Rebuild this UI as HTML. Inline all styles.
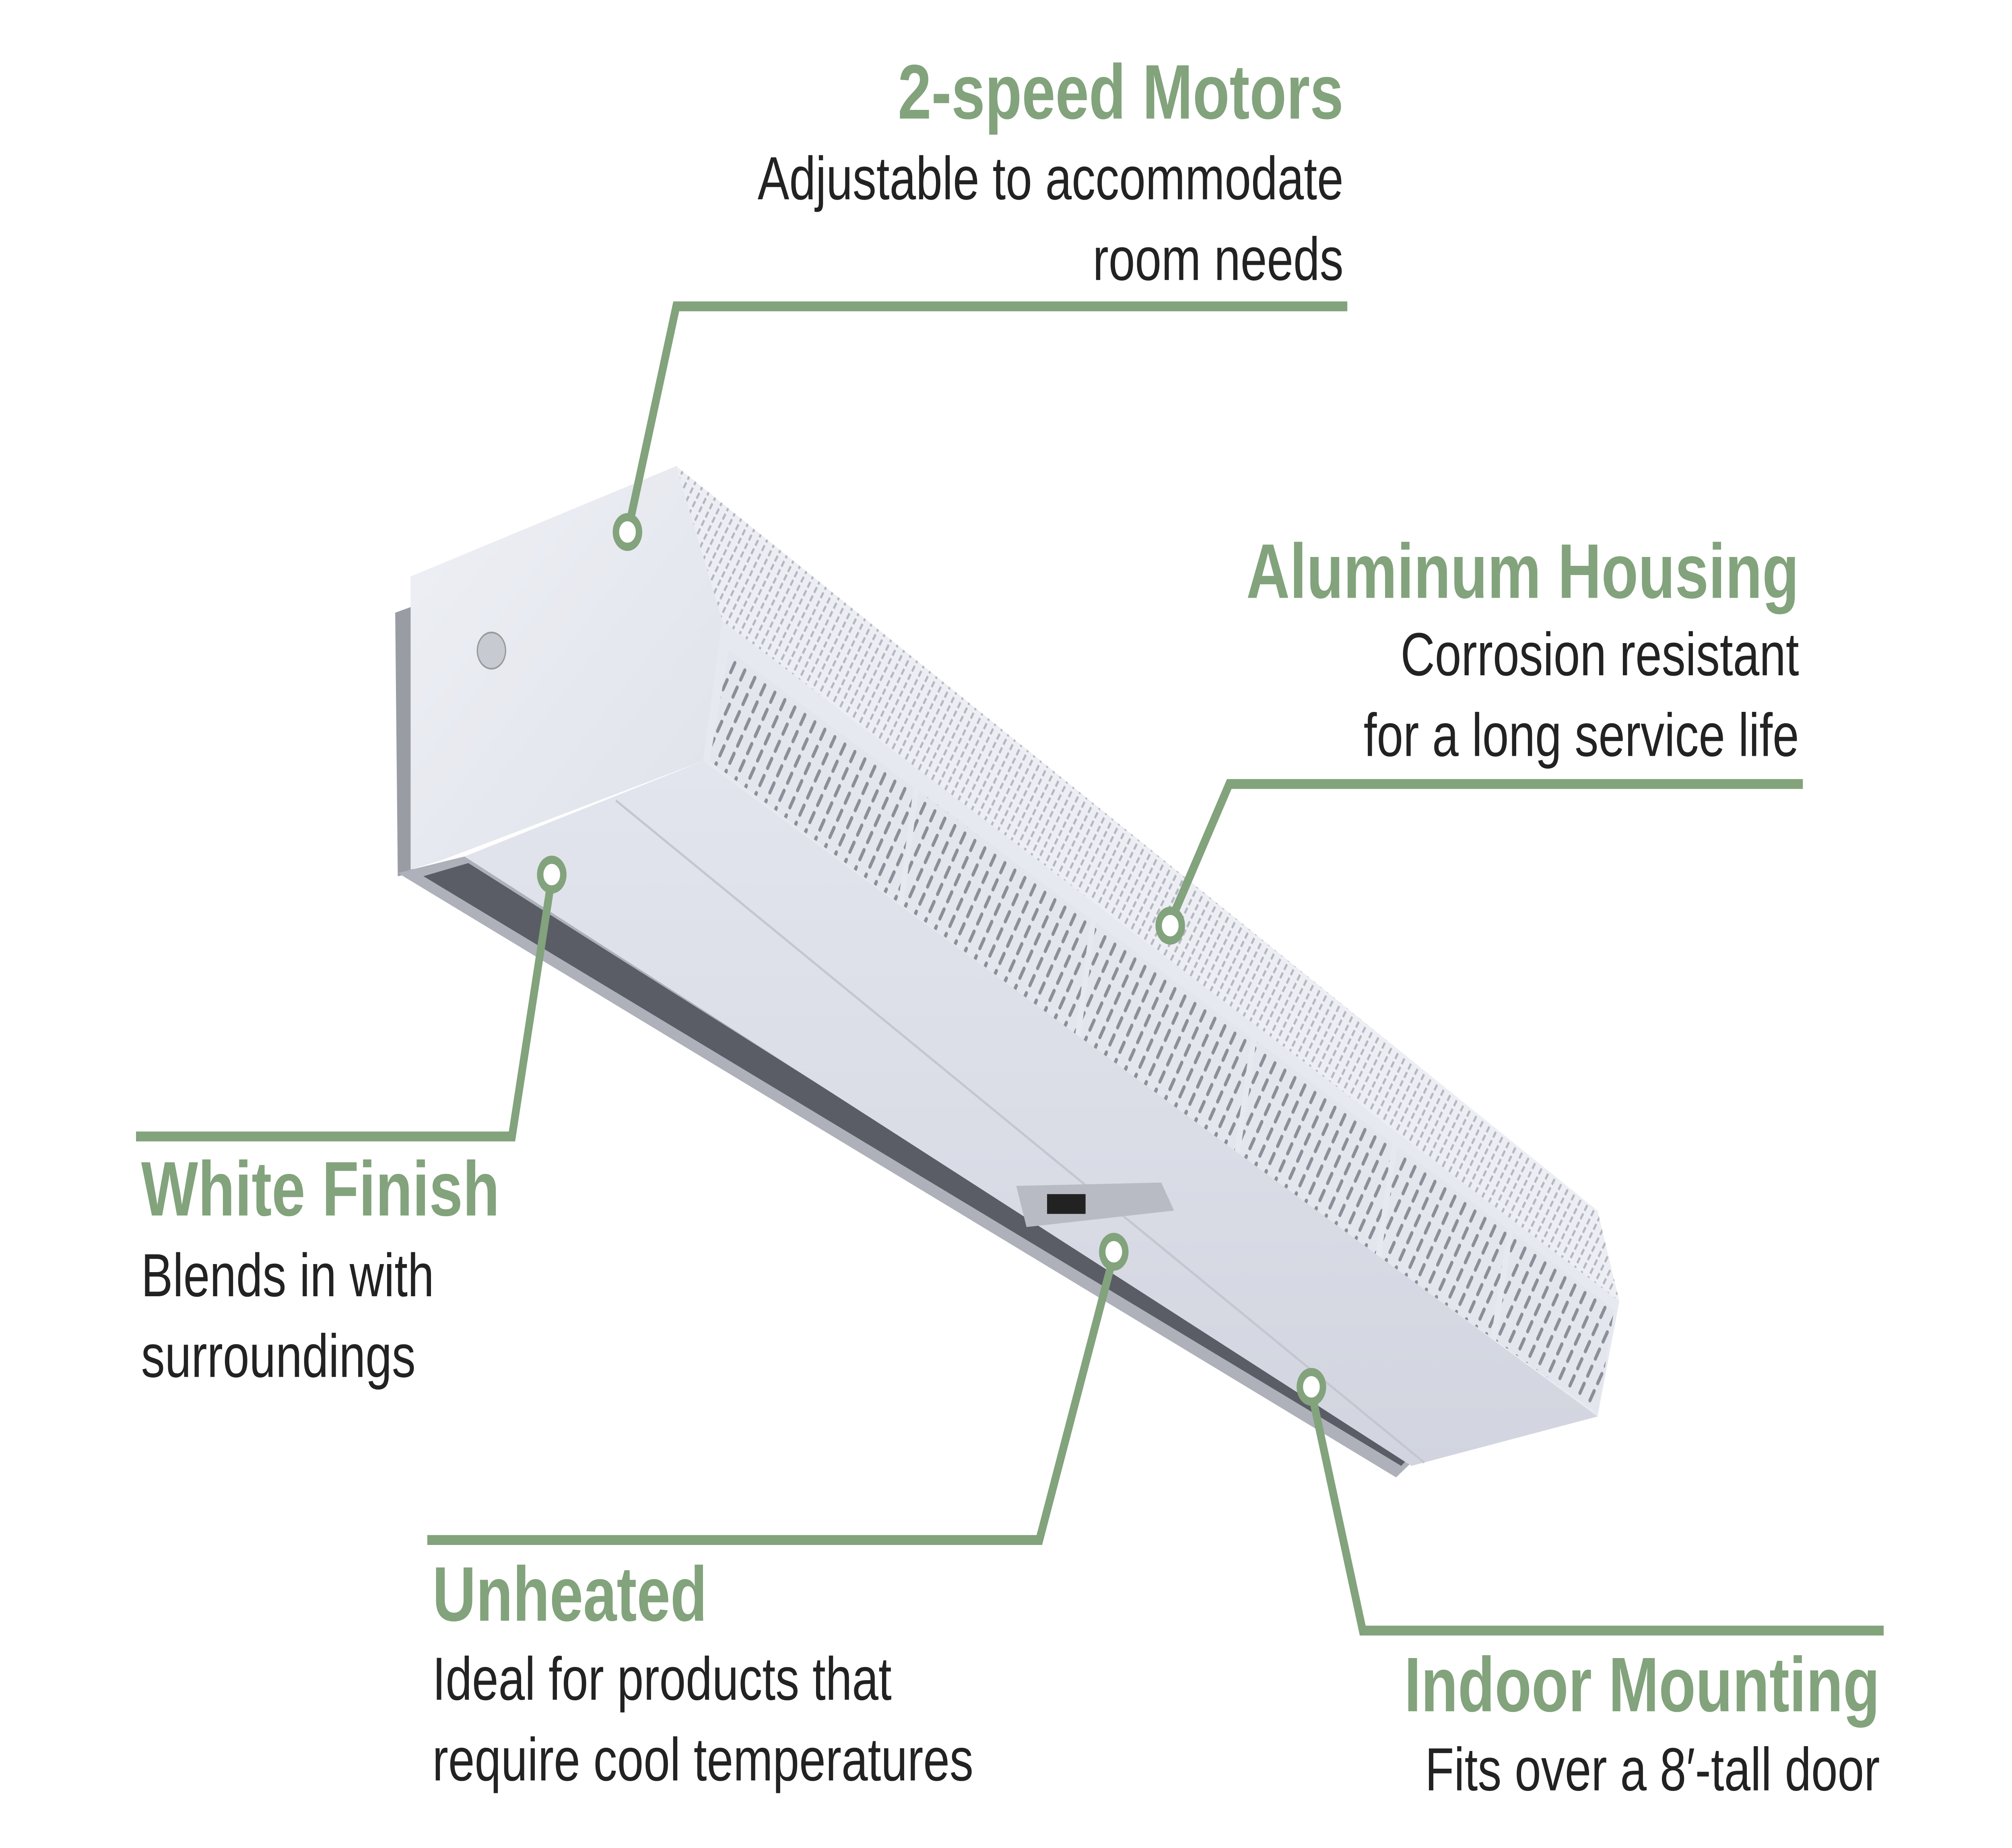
<!DOCTYPE html>
<html><head><meta charset="utf-8"><style>
html,body{margin:0;padding:0;background:#fff;width:100vw;height:100vh;overflow:hidden}
svg{display:block;position:absolute;left:0;top:0;width:100vw;height:100vh}
.h{font-family:"Liberation Sans",sans-serif;font-weight:bold;fill:#82a37c;font-size:47px}
.t{font-family:"Liberation Sans",sans-serif;fill:#222;font-size:37px}
</style></head><body>
<svg viewBox="0 0 1568 1122" preserveAspectRatio="none">
<defs>
<pattern id="perf" width="9" height="12" patternUnits="userSpaceOnUse" patternTransform="rotate(30)">
<rect width="9" height="12" fill="#e4e6ee"/><rect x="3" y="1" width="2.4" height="9" rx="1.2" fill="#8c8f99"/></pattern>
<pattern id="perf2" width="6" height="6" patternUnits="userSpaceOnUse" patternTransform="rotate(32)">
<rect width="6" height="6" fill="#eceef4"/><rect x="2" y="1" width="1.6" height="4" fill="#b5b8c2"/></pattern>
<linearGradient id="end" x1="0" y1="0" x2="1" y2="1"><stop offset="0" stop-color="#eef0f5"/><stop offset="1" stop-color="#dfe2ea"/></linearGradient>
<linearGradient id="bot" x1="0" y1="0" x2="0" y2="1"><stop offset="0" stop-color="#e3e5ee"/><stop offset="1" stop-color="#d2d5df"/></linearGradient>
</defs>
<polygon points="308,372 322,368 322,530 310,532" fill="#9a9ca4"/>
<polygon points="310,530 362,520 1100,888 1088,897" fill="#aeb1ba"/>
<polygon points="330,532 365,524 1098,885 1092,890" fill="#5a5d66"/>
<polygon points="320,350 527,283 563,377 548,462 345,522 320,528" fill="url(#end)"/>
<polygon points="527,283 1245,735 1262,790 563,377" fill="url(#perf2)"/>
<polygon points="563,377 1262,790 1245,860 548,462" fill="#e7e9f0"/>
<polygon points="568,395 712,478 700,548 553,462" fill="url(#perf)"/>
<polygon points="716,480 850,558 838,628 704,550" fill="url(#perf)"/>
<polygon points="854,560 975,630 962,700 842,630" fill="url(#perf)"/>
<polygon points="979,632 1085,694 1072,762 966,702" fill="url(#perf)"/>
<polygon points="1089,696 1175,746 1162,812 1076,764" fill="url(#perf)"/>
<polygon points="1179,748 1258,795 1245,858 1166,814" fill="url(#perf)"/>
<polygon points="362,520 548,462 1245,860 1100,890" fill="url(#bot)"/>
<line x1="480" y1="486" x2="1110" y2="888" stroke="#c4c7d0" stroke-width="1.5"/>
<polygon points="792,720 905,718 915,735 800,745" fill="#b8bbc4"/>
<rect x="816" y="725" width="30" height="12" fill="#222"/>
<circle cx="383" cy="395" r="11" fill="#c8cad2" stroke="#999" stroke-width="1"/>
<g stroke="#82a37c" stroke-width="6" fill="none">
<polyline points="1050,186 527,186 490,320"/>
<polyline points="1405,476 958,476 912,560"/>
<polyline points="106,690 399,690 430,533"/>
<polyline points="333,935 810,935 868,762"/>
<polyline points="1468,990 1062,990 1022,845"/>
</g>
<g fill="#fff" stroke="#82a37c" stroke-width="5">
<circle cx="489" cy="323" r="9"/><circle cx="912" cy="562" r="9"/><circle cx="430" cy="531" r="9"/>
<circle cx="868" cy="760" r="9"/><circle cx="1022" cy="842" r="9"/>
</g>
<text class="h" x="1047" y="72" text-anchor="end">2-speed Motors</text>
<text class="t" x="1047" y="121" text-anchor="end">Adjustable to accommodate</text>
<text class="t" x="1047" y="170" text-anchor="end">room needs</text>
<text class="h" x="1402" y="363" text-anchor="end">Aluminum Housing</text>
<text class="t" x="1402" y="410" text-anchor="end">Corrosion resistant</text>
<text class="t" x="1402" y="459" text-anchor="end">for a long service life</text>
<text class="h" x="110" y="738">White Finish</text>
<text class="t" x="110" y="787">Blends in with</text>
<text class="t" x="110" y="836">surroundings</text>
<text class="h" x="337" y="984">Unheated</text>
<text class="t" x="337" y="1032">Ideal for products that</text>
<text class="t" x="337" y="1081">require cool temperatures</text>
<text class="h" x="1465" y="1039" text-anchor="end">Indoor Mounting</text>
<text class="t" x="1465" y="1087" text-anchor="end">Fits over a 8′-tall door</text>
</svg>
</body></html>
